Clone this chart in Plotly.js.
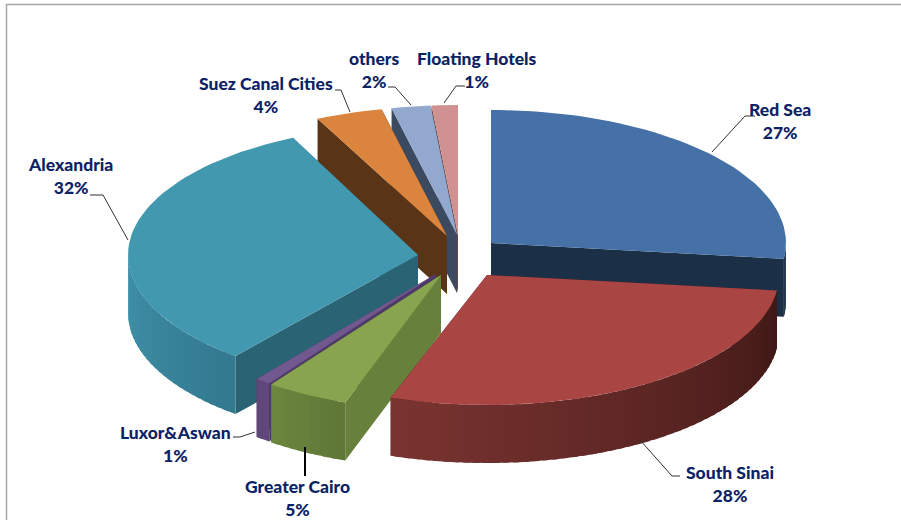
<!DOCTYPE html>
<html>
<head>
<meta charset="utf-8">
<script src="https://cdn.plot.ly/plotly-3.0.1.min.js"></script>
<style>html,body{margin:0;padding:0;background:#fff}#c{width:901px;height:520px}</style>
</head>
<body>
<div id="c"></div>
<script>
// ---- data (share of each region, clockwise from 12 o'clock) ----
const categories = ["Red Sea","South Sinai","Greater Cairo","Luxor&Aswan","Alexandria","Suez Canal Cities","others","Floating Hotels"];
const values     = [26.9, 28.45, 4.6, 0.88, 32.07, 3.6, 2.1, 1.4];

// ---- styling and 3D projection ----
const topColors  = ["#4571a6","#a94543","#89a44f","#71588f","#4198af","#db843d","#92a8ce","#d09291"];
const cutColors  = ["#1b2f47","#431a18","#67803b","#4e3a68","#2a6374","#5a3416","#3c4a60","#6e4644"];
const wallStart  = ["#1b2f47","#3f1816","#5f7636","#5f4779","#33788f","#5a3416","#3c4a60","#6e4644"];
const wallEnd    = ["#1b2f47","#7a3431","#6c8740","#5f4779","#3f92aa","#5a3416","#3c4a60","#6e4644"];
const apexX = [491, 487, 441, 436, 418, 447, 457, 458];
const apexY = [243, 275, 275, 274, 255, 236, 235, 235];
const radX  = [295, 292, 290, 285, 290, 300, 300, 300];
const radY  = [133, 130, 135, 135, 130, 130, 130, 130];
const depth = 58;
const paintOrder = [7, 6, 5, 0, 4, 3, 2, 1];

const labelX = [780, 730, 297, 175, 70, 266, 374, 477];
const labelY = [121, 484, 498, 444, 176, 95, 70, 70];
const leaders = [
  [[755,116],[745,116],[712,152]],
  [[680,476],[672,476],[640,440]],
  [[305,476],[305,447]],
  [[233,437],[240,437],[255,432]],
  [[90,195],[103,195],[128,240]],
  [[335,90],[341,90],[350,112]],
  [[388,87],[395,87],[411,105]],
  [[465,86],[456,86],[444,103]]
];
const leaderColor = ["#333","#333","#000","#333","#333","#333","#333","#333"];
const leaderWidth = [1,1,2,1,1,1,1,1];

// ---- geometry derived from the values ----
const total = values.reduce((a,b)=>a+b,0);
const toRad = d => d*Math.PI/180;
function hex(c){return [1,3,5].map(i=>parseInt(c.substr(i,2),16));}
function mix(a,b,f){const A=hex(a),B=hex(b);return "rgb("+A.map((v,i)=>Math.round(v+(B[i]-v)*f)).join(",")+")";}

const traces = [];
function poly(xs,ys,color,name){
  traces.push({type:"scatter",mode:"lines",x:xs.concat(xs[0]),y:ys.concat(ys[0]),fill:"toself",fillcolor:color,
    line:{color:color,width:0},name:name,hoverinfo:"name",showlegend:false});
}
let cum = 0;
const spans = values.map(v=>{const s=cum/total*360;cum+=v;return [s,cum/total*360];});
function px(i,t){return apexX[i]+radX[i]*Math.sin(toRad(t));}
function py(i,t){return apexY[i]-radY[i]*Math.cos(toRad(t));}

paintOrder.forEach(i=>{
  const [a,b] = spans[i], name = categories[i];
  // cut faces
  [a,b].forEach(t=>{
    poly([apexX[i],px(i,t),px(i,t),apexX[i]],[apexY[i],py(i,t),py(i,t)+depth,apexY[i]+depth],cutColors[i],name);
  });
  // outer wall, in narrow shaded strips that overlap to hide seams
  const lo=Math.max(a,90), hi=Math.min(b,270);
  if(hi>lo){
    const n=Math.max(1,Math.ceil((hi-lo)/2));
    for(let k=0;k<n;k++){
      const t0=lo+(hi-lo)*k/n, t1=Math.min(hi,lo+(hi-lo)*(k+1)/n+1.2);
      const xs=[],yt=[],yb=[];
      for(let s=0;s<=4;s++){const t=t0+(t1-t0)*s/4;xs.push(px(i,t));yt.push(py(i,t));yb.push(py(i,t)+depth);}
      poly(xs.concat(xs.slice().reverse()),yt.concat(yb.slice().reverse()),mix(wallStart[i],wallEnd[i],(k+0.5)/n),name);
    }
  }
  // top face
  const xs=[apexX[i]],ys=[apexY[i]];
  const m=Math.max(2,Math.ceil((b-a)/2));
  for(let k=0;k<=m;k++){const t=a+(b-a)*k/m;xs.push(px(i,t));ys.push(py(i,t));}
  poly(xs,ys,topColors[i],name);
});

const navy="#0b2265";
const annotations = categories.map((c,i)=>({
  x:labelX[i],y:labelY[i],xref:"x",yref:"y",showarrow:false,align:"center",
  text:c+"<br>"+Math.round(values[i])+"%",
  font:{family:"Lato",size:17.5,color:navy,weight:900}
}));
const shapes = leaders.map((p,i)=>({type:"path",xref:"x",yref:"y",
  path:"M"+p.map(q=>q.join(",")).join("L"),line:{color:leaderColor[i],width:leaderWidth[i]}}));
// chart-area frame (top and left edges)
shapes.push({type:"path",xref:"x",yref:"y",path:"M6.5,520L6.5,4.5L901,4.5",line:{color:"#a6a6a6",width:1.5}});

Plotly.newPlot("c",traces,{
  width:901,height:520,margin:{l:0,r:0,t:0,b:0},
  paper_bgcolor:"#fff",plot_bgcolor:"#fff",showlegend:false,
  xaxis:{range:[0,901],visible:false,fixedrange:true},
  yaxis:{range:[520,0],visible:false,fixedrange:true},
  annotations,shapes
},{displayModeBar:false,staticPlot:true});
</script>
</body>
</html>
